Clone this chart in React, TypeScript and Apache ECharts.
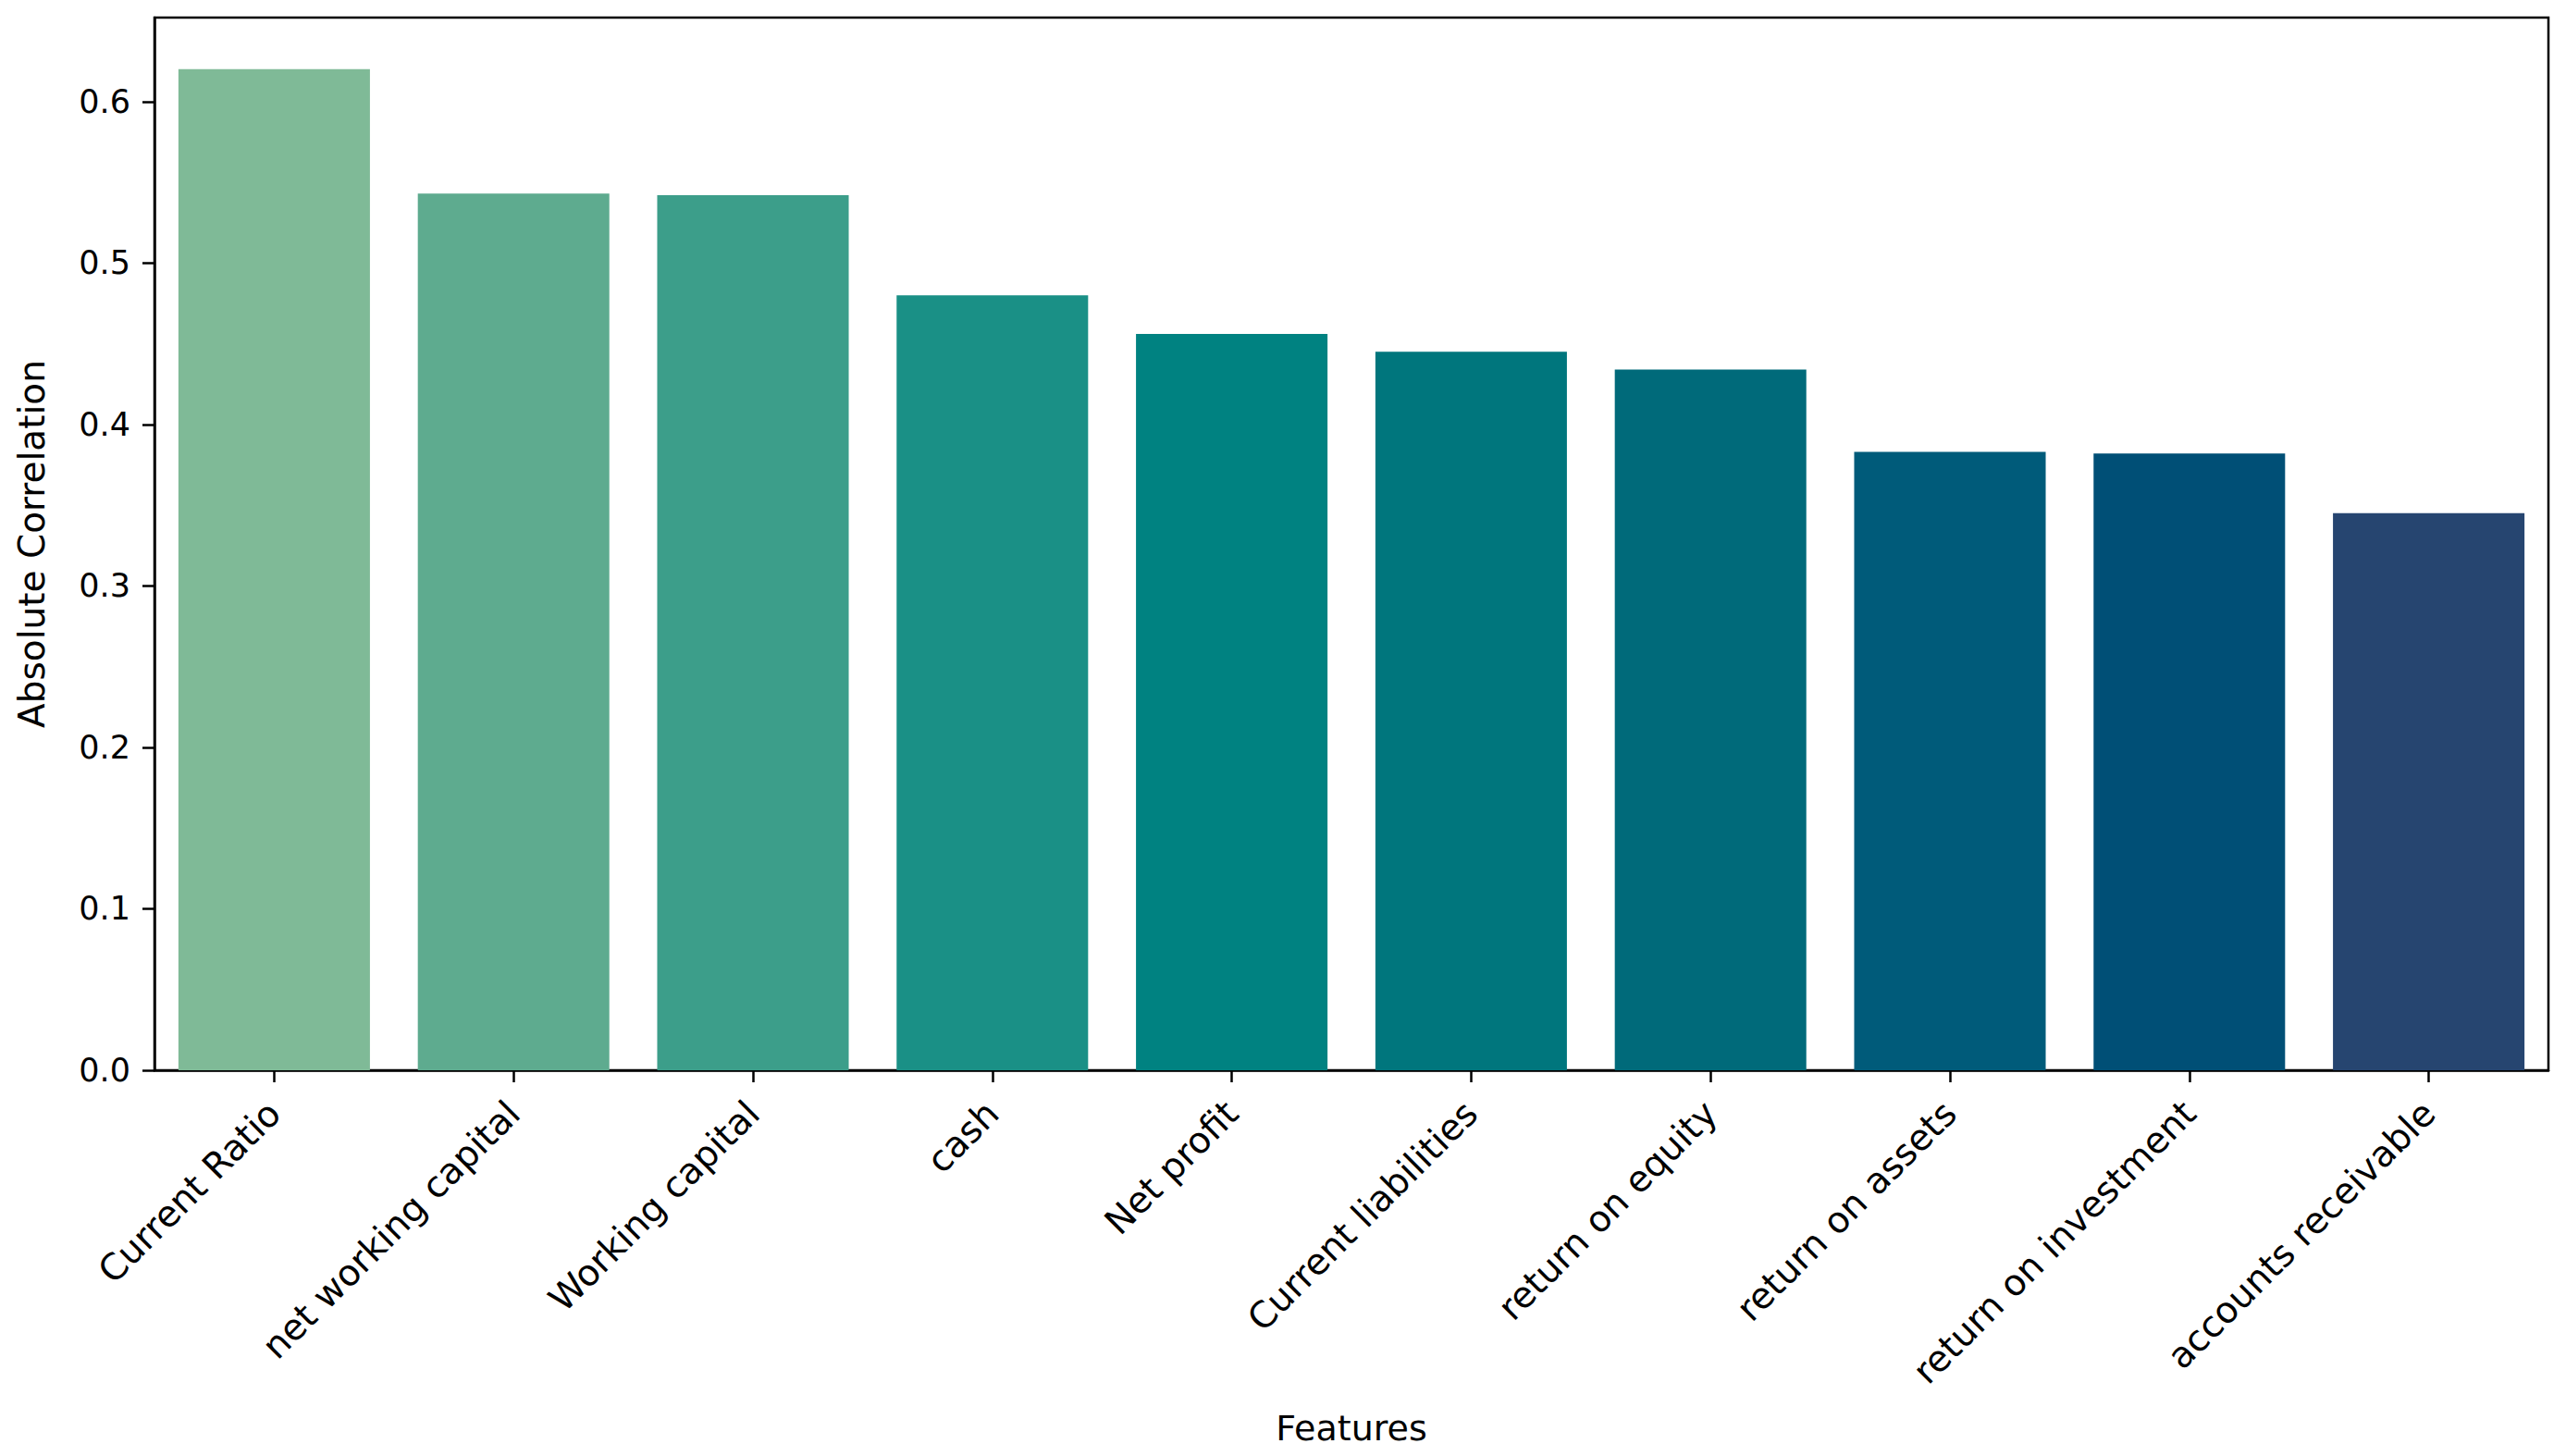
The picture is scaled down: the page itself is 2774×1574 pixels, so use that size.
import React, { useEffect, useRef } from "react";
import * as echarts from "echarts";

const categories = [
  "Current Ratio",
  "net working capital",
  "Working capital",
  "cash",
  "Net profit",
  "Current liabilities",
  "return on equity",
  "return on assets",
  "return on investment",
  "accounts receivable",
];
const values = [0.62, 0.543, 0.542, 0.48, 0.456, 0.445, 0.434, 0.383, 0.382, 0.345];
const barColors = [
  "#7fba97",
  "#5eab8f",
  "#3c9e8a",
  "#1a9086",
  "#008281",
  "#00767d",
  "#006a7a",
  "#005b7a",
  "#004f76",
  "#264570",
];
const yTicks = [0, 0.1, 0.2, 0.3, 0.4, 0.5, 0.6];

const FONT = "DejaVu Sans";

export default function App() {
  const ref = useRef<HTMLDivElement>(null);
  useEffect(() => {
    document.body.style.margin = "0";
    if (!ref.current) return;
    const chart = echarts.init(ref.current, null, { renderer: "svg" });
    chart.setOption({
      animation: false,
      backgroundColor: "#ffffff",
      grid: {
        left: 167,
        right: 19,
        top: 19,
        bottom: 417,
        show: true,
        borderColor: "#000000",
        borderWidth: 2.5,
        backgroundColor: "transparent",
      },
      xAxis: {
        type: "category",
        data: categories,
        name: "Features",
        nameLocation: "middle",
        nameGap: 368,
        nameTextStyle: { fontFamily: FONT, fontSize: 38, color: "#000" },
        axisLine: { show: true, lineStyle: { color: "#000", width: 2.5 } },
        axisTick: {
          show: true,
          alignWithLabel: true,
          length: 13,
          lineStyle: { color: "#000", width: 2.5 },
        },
        axisLabel: {
          rotate: 45,
          interval: 0,
          margin: 40,
          fontFamily: FONT,
          fontSize: 39,
          color: "#000",
        },
        splitLine: { show: false },
      },
      yAxis: {
        type: "value",
        min: 0,
        max: 0.652,
        interval: 0.1,
        name: "Absolute Correlation",
        nameLocation: "middle",
        nameGap: 113,
        nameTextStyle: { fontFamily: FONT, fontSize: 39, color: "#000" },
        axisLine: { show: true, lineStyle: { color: "#000", width: 2.5 } },
        axisTick: { show: true, length: 13, lineStyle: { color: "#000", width: 2.5 } },
        axisLabel: {
          margin: 26,
          fontFamily: FONT,
          fontSize: 35,
          color: "#000",
          showMaxLabel: false,
          formatter: (v: number) => {
            const t = yTicks.find((x) => Math.abs(x - v) < 1e-6);
            return t === undefined ? "" : t.toFixed(1);
          },
        },
        splitLine: { show: false },
      },
      series: [
        {
          type: "bar",
          data: values.map((v, i) => ({ value: v, itemStyle: { color: barColors[i] } })),
          barCategoryGap: "20%",
        },
      ],
    });
    return () => chart.dispose();
  }, []);
  return <div ref={ref} style={{ width: 2774, height: 1574 }} />;
}
